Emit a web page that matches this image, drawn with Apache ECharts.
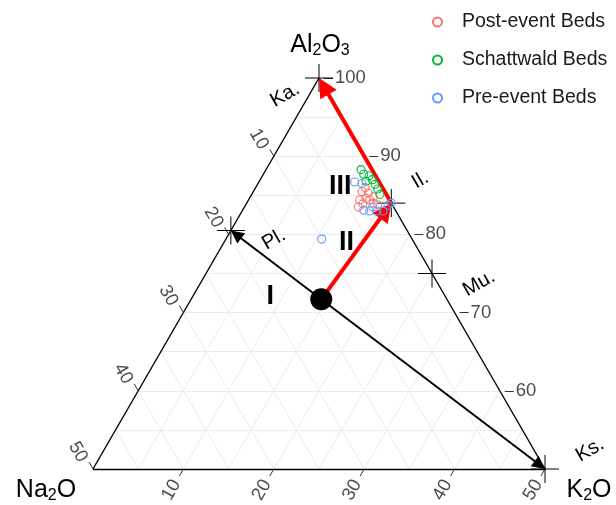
<!DOCTYPE html>
<html>
<head>
<meta charset="utf-8">
<script src="https://cdn.jsdelivr.net/npm/echarts@6/dist/echarts.min.js"></script>
<style>
  html, body { margin: 0; padding: 0; background: #fff; }
  #chart { width: 616px; height: 505px; }
</style>
</head>
<body>
<div id="chart"></div>
<script>
// Sample compositions, each as [Al2O3, Na2O, K2O] (Al2O3 shown from 50 to 100)
const postEvent = [
  [85.4, 2.5, 12.0], [85.3, 1.9, 12.8], [84.7, 2.5, 12.9], [84.8, 1.6, 13.6],
  [83.5, 3.9, 12.6], [83.9, 3.2, 12.9], [84.0, 2.0, 14.0], [83.8, 1.6, 14.6],
  [84.4, 2.2, 13.4], [85.9, 1.9, 12.1], [84.4, 3.3, 12.3]
];
const schattwald = [
  [88.2, 1.2, 10.5], [87.7, 1.2, 11.1], [87.5, 0.7, 11.8], [87.0, 0.6, 12.4],
  [86.4, 0.6, 13.0], [85.8, 0.6, 13.6], [85.2, 0.7, 14.2], [86.8, 1.4, 11.8]
];
const preEvent = [
  [86.7, 2.7, 10.6], [86.6, 2.0, 11.5], [83.1, 3.5, 13.4], [83.0, 2.9, 14.1],
  [83.0, 2.1, 14.9], [83.0, 1.4, 15.6], [83.8, 0.5, 15.8], [84.0, 0.0, 16.0],
  [83.5, 2.3, 14.2], [79.4, 10.0, 10.6]
];
const seriesNames = ['Post-event Beds', 'Schattwald Beds', 'Pre-event Beds'];

// Reference minerals
const mineralNames = ['Ka.', 'Pl.', 'Il.', 'Mu.', 'Ks.'];
const mineralComps = [[100, 0, 0], [80.5, 19.5, 0], [84, 0, 16], [75, 0, 25], [50, 0, 50]];

// Weathering trend start (fresh rock) and zone label anchors
const startComp = [71.7, 13.9, 14.4];
const zoneNames = ['I', 'II', 'III'];
const zoneComps = [[72.0, 19.4, 8.6], [78.9, 7.5, 13.6], [86.1, 4.6, 9.3]];

// Axis ticks and grid steps
const alTicks = [60, 70, 80, 90, 100];
const naTicks = [10, 20, 30, 40, 50];
const kTicks = [10, 20, 30, 40, 50];
const gridSteps = [5, 10, 15, 20, 25, 30, 35, 40, 45];

const FONT = '"Liberation Sans", Arial, Helvetica, sans-serif';
const GRID = { left: 93, top: 78, width: 452, height: 391 };

// Ternary composition -> plane coordinates (x along base, y = height fraction)
function xy(c) {
  const s = c[0] + c[1] + c[2];
  const al = c[0] * 100 / s, k = c[2] * 100 / s;
  const a = (al - 50) / 50, kk = k / 50;
  return [kk + a / 2, a];
}
// Shift a plane point by a pixel amount
function shift(p, dx, dy) {
  return [p[0] + dx / GRID.width, p[1] - dy / GRID.height];
}
// Pull a segment end back by n pixels so an arrowhead's tip lands on the end point
function pull(p0, p1, n) {
  const dx = (p1[0] - p0[0]) * GRID.width, dy = (p1[1] - p0[1]) * GRID.height;
  const len = Math.hypot(dx, dy);
  return [p1[0] - dx / len * n / GRID.width, p1[1] - dy / len * n / GRID.height];
}

const gridSegs = [];
gridSteps.forEach(function (v) {
  gridSegs.push({ coords: [xy([50 + v, 50 - v, 0]), xy([50 + v, 0, 50 - v])] });
  gridSegs.push({ coords: [xy([100 - v, v, 0]), xy([50, v, 50 - v])] });
  gridSegs.push({ coords: [xy([100 - v, 0, v]), xy([50, 50 - v, v])] });
});

const edgeSegs = [
  { coords: [xy([100, 0, 0]), xy([50, 50, 0])] },
  { coords: [xy([50, 50, 0]), xy([50, 0, 50])] },
  { coords: [xy([50, 0, 50]), xy([100, 0, 0])] }
];

const tickSegs = [];
const tickLabels = [];
alTicks.forEach(function (c) {
  const e = xy([c, 0, 100 - c]);
  tickSegs.push({ coords: [shift(e, 5, 0), shift(e, 14, 0)] });
  tickLabels.push({ value: shift(e, 16, 0), name: String(c),
    label: { align: 'left', verticalAlign: 'middle', rotate: 0 } });
});
naTicks.forEach(function (c) {
  const e = xy([100 - c, c, 0]);
  tickSegs.push({ coords: [e, shift(e, -4, -7)] });
  tickLabels.push({ value: shift(e, -15, -17), name: String(c),
    label: { align: 'center', verticalAlign: 'middle', rotate: -60 } });
});
kTicks.forEach(function (c) {
  const e = xy([50, 50 - c, c]);
  tickSegs.push({ coords: [e, shift(e, -4, 7)] });
  tickLabels.push({ value: shift(e, -12, 21), name: String(c),
    label: { align: 'center', verticalAlign: 'middle', rotate: 60 } });
});

const mp = mineralComps.map(xy);
const sp = xy(startComp);
const mineralLabelShift = [[-34, 17], [43, 9], [29, -23], [47, 10], [45, -19]];

function pointSeries(name, data, color) {
  return {
    name: name, type: 'scatter', data: data.map(xy), symbol: 'circle', symbolSize: 8,
    clip: false, z: 6,
    itemStyle: { color: 'rgba(255,255,255,0)', borderColor: color, borderWidth: 1.1, opacity: 1 },
    emphasis: { disabled: true }
  };
}

const BLACK_HEAD = [10, 13];
const RED_HEAD = [14, 19];

const option = {
  animation: false,
  grid: GRID,
  xAxis: { type: 'value', min: 0, max: 1, show: false },
  yAxis: { type: 'value', min: 0, max: 1, show: false },
  legend: {
    orient: 'vertical', left: 427, top: 5, itemGap: 14,
    itemWidth: 9, itemHeight: 9, icon: 'circle',
    textStyle: { fontFamily: FONT, fontSize: 19.5, color: '#1a1a1a', lineHeight: 24, padding: [0, 0, 0, 15] },
    data: seriesNames
  },
  series: [
    { type: 'lines', coordinateSystem: 'cartesian2d', clip: false, z: 1, silent: true,
      lineStyle: { color: '#ebebeb', width: 1, opacity: 1 }, data: gridSegs },
    { type: 'lines', coordinateSystem: 'cartesian2d', clip: false, z: 2, silent: true,
      lineStyle: { color: '#000', width: 1.4, opacity: 1 }, data: edgeSegs },
    { type: 'lines', coordinateSystem: 'cartesian2d', clip: false, z: 2, silent: true,
      lineStyle: { color: '#333', width: 1, opacity: 1 }, data: tickSegs },
    { type: 'scatter', clip: false, z: 8, silent: true, symbolSize: 0,
      itemStyle: { opacity: 1 },
      label: { show: true, position: 'inside', formatter: '{b}',
        fontFamily: FONT, fontSize: 18.5, color: '#4d4d4d' },
      data: tickLabels },
    // weathering trend: fresh rock towards plagioclase / K-feldspar
    { type: 'lines', coordinateSystem: 'cartesian2d', clip: false, z: 3, silent: true,
      symbol: ['none', 'triangle'], symbolSize: BLACK_HEAD,
      lineStyle: { color: '#000', width: 2, opacity: 1 },
      data: [{ coords: [sp, pull(sp, mp[1], BLACK_HEAD[1] / 2)] },
             { coords: [sp, pull(sp, mp[4], BLACK_HEAD[1] / 2)] }] },
    // mineral reference crosses
    { type: 'scatter', clip: false, z: 4, silent: true,
      symbol: 'path://M0,10L20,10M10,0L10,20', symbolSize: 28,
      itemStyle: { color: 'rgba(0,0,0,0)', borderColor: '#000', borderWidth: 1, opacity: 1 },
      data: mp },
    // mineral names
    { type: 'scatter', clip: false, z: 8, silent: true, symbolSize: 0,
      itemStyle: { opacity: 1 },
      label: { show: true, formatter: '{b}', position: 'inside',
        fontFamily: FONT, fontSize: 20, color: '#000', rotate: 30 },
      data: mineralNames.map(function (n, i) {
        return { name: n, value: shift(mp[i], mineralLabelShift[i][0], mineralLabelShift[i][1]) };
      }) },
    // red trend: fresh rock -> illite -> kaolinite
    { type: 'lines', coordinateSystem: 'cartesian2d', clip: false, z: 5, silent: true,
      symbol: ['none', 'triangle'], symbolSize: RED_HEAD,
      lineStyle: { color: '#ff0000', width: 4, opacity: 1 },
      data: [{ coords: [sp, pull(sp, mp[2], RED_HEAD[1] / 2)] },
             { coords: [mp[2], pull(mp[2], mp[0], RED_HEAD[1] / 2)] }] },
    pointSeries(seriesNames[0], postEvent, '#F8766D'),
    pointSeries(seriesNames[1], schattwald, '#00BA38'),
    pointSeries(seriesNames[2], preEvent, '#619CFF'),
    // fresh rock composition
    { type: 'scatter', clip: false, z: 7, silent: true, symbolSize: 22,
      itemStyle: { color: '#000', opacity: 1 }, data: [sp] },
    // zone labels
    { type: 'scatter', clip: false, z: 8, silent: true, symbolSize: 0,
      itemStyle: { opacity: 1 },
      label: { show: true, position: 'inside', formatter: '{b}',
        fontFamily: FONT, fontSize: 27, fontWeight: 'bold', color: '#000' },
      data: zoneNames.map(function (n, i) { return { name: n, value: xy(zoneComps[i]) }; }) },
    // vertex labels
    { type: 'scatter', clip: false, z: 8, silent: true, symbolSize: 0,
      itemStyle: { opacity: 1 },
      label: { show: true, position: 'inside',
        rich: {
          b: { fontFamily: FONT, fontSize: 25, color: '#000', lineHeight: 28 },
          s: { fontFamily: FONT, fontSize: 16, color: '#000', lineHeight: 16, verticalAlign: 'bottom' }
        } },
      data: [
        { value: shift(xy([100, 0, 0]), 1, -33), label: { formatter: '{b|Al}{s|2}{b|O}{s|3}' } },
        { value: shift(xy([50, 50, 0]), -47, 21), label: { formatter: '{b|Na}{s|2}{b|O}' } },
        { value: shift(xy([50, 0, 50]), 44, 21), label: { formatter: '{b|K}{s|2}{b|O}' } }
      ] }
  ]
};

const chart = echarts.init(document.getElementById('chart'), null, { renderer: 'canvas' });
chart.setOption(option);
</script>
</body>
</html>
